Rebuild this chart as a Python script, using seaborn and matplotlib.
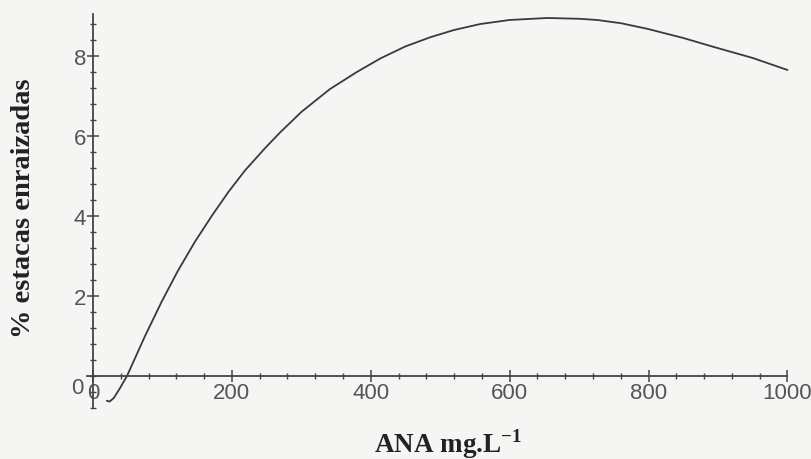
import seaborn as sns
import matplotlib.pyplot as plt
import pandas as pd
from matplotlib.ticker import MultipleLocator

# curve
ana_dose = [20, 24, 30, 38, 49, 62, 75, 99, 122, 147, 171, 195, 219, 248, 269,
            300, 341, 380, 414, 450, 486, 520, 558, 600, 654, 700, 726, 760,
            798, 850, 893, 950, 1000]
pct_rooted = [-0.62, -0.64, -0.55, -0.33, 0.0, 0.5, 1.0, 1.86, 2.62, 3.36,
              4.0, 4.6, 5.14, 5.7, 6.08, 6.6, 7.17, 7.6, 7.94, 8.24, 8.47,
              8.65, 8.8, 8.9, 8.95, 8.93, 8.9, 8.82, 8.68, 8.45, 8.23, 7.95,
              7.65]

x_ticks = [0, 200, 400, 600, 800, 1000]
y_ticks = [2, 4, 6, 8]

df = pd.DataFrame({'ANA': ana_dose, 'pct': pct_rooted})

sns.set_style('white')
plt.rcParams['font.family'] = ['Liberation Sans', 'DejaVu Sans']

bg = '#f5f5f3'
fig = plt.figure(figsize=(8.11, 4.6), dpi=100, facecolor=bg)
ax = fig.add_axes([0.0986, 0.1087, 0.8878, 0.8696], facecolor=bg)

sns.lineplot(data=df, x='ANA', y='pct', ax=ax, color='#3a3a3a', linewidth=1.3)

ax.set_xlim(-18.7, 1018)
ax.set_ylim(-0.825, 9.175)

# axes cross at the origin, Mathematica style
for side in ['top', 'right']:
    ax.spines[side].set_visible(False)
ax.spines['left'].set_position(('data', 0))
ax.spines['bottom'].set_position(('data', 0))
ax.spines['left'].set_bounds(-0.78, 9.05)
ax.spines['bottom'].set_bounds(-8, 1000)
for side in ['left', 'bottom']:
    ax.spines[side].set_color('#444444')
    ax.spines[side].set_linewidth(1.3)

ax.set_xticks(x_ticks)
ax.set_yticks(y_ticks)
ax.xaxis.set_minor_locator(MultipleLocator(40))
ax.yaxis.set_minor_locator(MultipleLocator(0.4))
ax.tick_params(which='both', bottom=True, left=True)
ax.tick_params(which='major', direction='inout', length=8, width=1.1,
               color='#444444', labelsize=16, labelcolor='#555555')
ax.tick_params(which='minor', direction='inout', length=4, width=1.0,
               color='#444444')
ax.tick_params(axis='x', pad=0)
ax.tick_params(axis='y', pad=1)

# y origin label sits left of the axis
ax.text(-22, -0.3, '0', ha='center', va='center', fontsize=16, color='#555555')

ax.set_xlabel('')
ax.set_ylabel('')
fig.text(448 / 811, 1 - 444 / 460, 'ANA mg.L$^{\\mathregular{-1}}$', ha='center',
         va='center', fontsize=19.5, fontweight='bold', color='#222222',
         family='Liberation Serif')
fig.text(24 / 811, 1 - 208 / 460, '% estacas enraizadas', ha='center', va='center',
         rotation=90, fontsize=20.5, fontweight='bold', color='#222222',
         family='Liberation Serif')

plt.savefig('out.png', dpi=100, facecolor=bg)
plt.close()
